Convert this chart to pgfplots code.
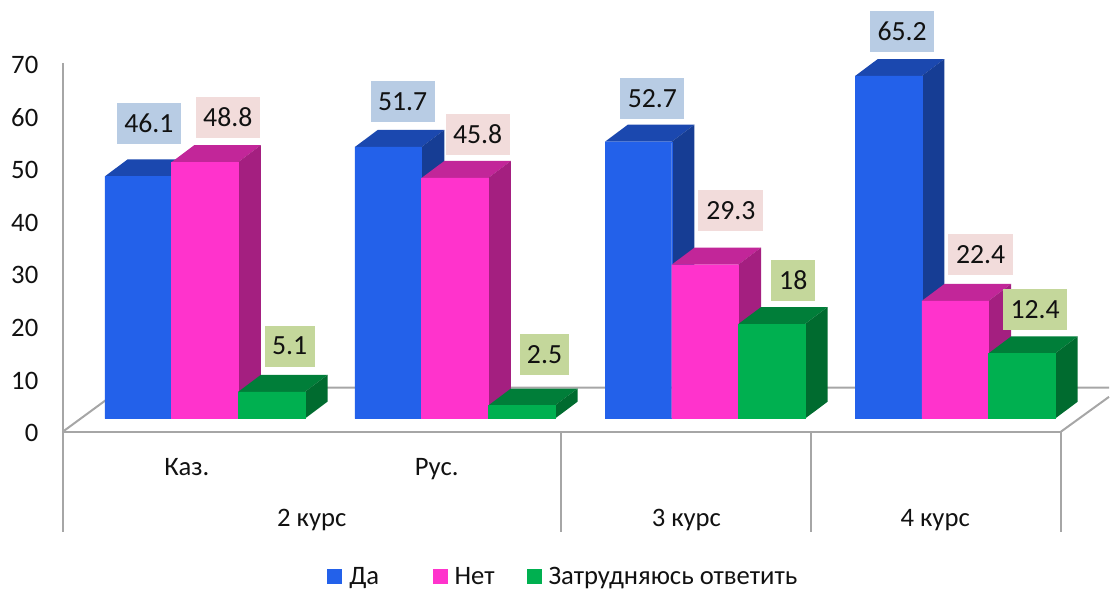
\documentclass[border=0pt]{standalone}
\usepackage{fontspec}
\setmainfont{Carlito}
\usepackage{pgfplots}
\pgfplotsset{compat=1.18}

\definecolor{blueF}{HTML}{2361EA}
\definecolor{blueT}{HTML}{1B48AF}
\definecolor{blueS}{HTML}{163D94}
\definecolor{pinkF}{HTML}{FF33CC}
\definecolor{pinkT}{HTML}{C22699}
\definecolor{pinkS}{HTML}{A41F80}
\definecolor{greenF}{HTML}{00B050}
\definecolor{greenT}{HTML}{007E39}
\definecolor{greenS}{HTML}{006B2F}
\definecolor{lblB}{HTML}{B8CCE4}
\definecolor{lblP}{HTML}{F2DCDB}
\definecolor{lblG}{HTML}{C4D79B}
\definecolor{frame}{HTML}{A6A6A6}
\definecolor{txt}{HTML}{111111}

% x positions are in pixels of the reference, 1 px = 0.75 pt
\newcommand{\cube}[4]{%
  \pgfmathsetmacro\xr{#1+66.7}%
  \pgfmathsetmacro\xbl{#1+22.7}%
  \pgfmathsetmacro\xbr{#1+89.4}%
  \pgfmathsetmacro\vb{#2+3.23}%
  \addplot[fill=#3,draw=none,mark=none,forget plot] coordinates {(#1,#2) (\xr,#2) (\xbr,\vb) (\xbl,\vb) (#1,#2)};
  \addplot[fill=#4,draw=none,mark=none,forget plot] coordinates {(\xr,0) (\xr,#2) (\xbr,\vb) (\xbr,3.23) (\xr,0)};
}
\newcommand{\lab}[5]{%
  \node[fill=#4,text=txt,inner sep=0pt,minimum width=#3*0.75pt,minimum height=30.75pt,
    font=\fontsize{20.8}{24}\selectfont]
    at ({#1*0.75pt},{(587-#2)*0.75pt}) {#5};
}

\begin{document}
\begin{tikzpicture}[font=\fontsize{20}{24}\selectfont]

% frame and value scale: 0 lies at y=432 px on the wall
\begin{axis}[
  at={(47.25pt,0pt)},
  scale only axis,
  width=785.25pt,
  height=440.25pt,
  xmin=63, xmax=1110,
  ymin=-29.41, ymax=81.96,
  clip=false,
  axis line style={draw=none},
  tick style={draw=none},
  ytick={0,10,20,30,40,50,60,70},
  /pgf/number format/assume math mode=true,
  yticklabel style={text=txt,xshift=-15pt,yshift=-1.2pt},
  xtick={187,437},
  xticklabels={Каз.,Рус.},
  xticklabel style={text=txt,anchor=base,yshift=83.5pt},
  extra x ticks={312,687,936},
  extra x tick labels={2 курс,3 курс,4 курс},
  extra x tick style={tick label style={text=txt,anchor=base,yshift=-38.25pt}},
]
\addplot[frame,line width=1.5pt,mark=none] coordinates {(63,70) (63,-19.1)};
\addplot[frame,line width=1.5pt,mark=none] coordinates {(63,0) (1062,0)};
\addplot[frame,line width=1.5pt,mark=none] coordinates {(63,0) (123,8.35) (1110,8.35)};
\addplot[frame,line width=1.5pt,mark=none] coordinates {(1062,0) (1110,6.6)};
\addplot[frame,line width=1.5pt,mark=none] coordinates {(561.5,0) (561.5,-19.1)};
\addplot[frame,line width=1.5pt,mark=none] coordinates {(811.5,0) (811.5,-19.1)};
\addplot[frame,line width=1.5pt,mark=none] coordinates {(1062,0) (1062,-19.1)};
\end{axis}

% bars: 0 lies at y=419 px on the front plane
\begin{axis}[
  at={(47.25pt,0pt)},
  scale only axis,
  width=785.25pt,
  height=440.25pt,
  xmin=63, xmax=1110,
  ymin=-31.94, ymax=79.66,
  clip=false,
  hide axis,
  legend columns=3,
  legend cell align=left,
  legend style={at={(0.2525,0.0165)},anchor=west,draw=none,fill=none,inner sep=0pt,
    text=txt,
    /tikz/every even column/.append style={column sep=0pt}},
  legend image code/.code={\path[#1] (0pt,-5.5pt) rectangle (11.25pt,5.75pt);\path (14.5pt,0pt);},
]
\addlegendimage{fill=blueF,draw=none}
\addlegendentry{Да\rule{38pt}{0pt}}
\addlegendimage{fill=pinkF,draw=none}
\addlegendentry{Нет\rule{22pt}{0pt}}
\addlegendimage{fill=greenF,draw=none}
\addlegendentry{Затрудняюсь ответить}

% Да
\cube{105}{46.1}{blueT}{blueS}
\cube{355.3}{51.7}{blueT}{blueS}
\cube{605.6}{52.7}{blueT}{blueS}
\cube{855.9}{65.2}{blueT}{blueS}
\addplot[ybar,bar shift=0pt,bar width=66.7,fill=blueF,draw=blueF,line width=0.2pt,mark=none,forget plot]
  coordinates {(138.35,46.1) (388.65,51.7) (638.95,52.7) (889.25,65.2)};
% Нет
\cube{171.7}{48.8}{pinkT}{pinkS}
\cube{422}{45.8}{pinkT}{pinkS}
\cube{672.3}{29.3}{pinkT}{pinkS}
\cube{922.6}{22.4}{pinkT}{pinkS}
\addplot[ybar,bar shift=0pt,bar width=66.7,fill=pinkF,draw=pinkF,line width=0.2pt,mark=none,forget plot]
  coordinates {(205.05,48.8) (455.35,45.8) (705.65,29.3) (955.95,22.4)};
% Затрудняюсь ответить
\cube{238.4}{5.1}{greenT}{greenS}
\cube{488.7}{2.5}{greenT}{greenS}
\cube{739}{18}{greenT}{greenS}
\cube{989.3}{12.4}{greenT}{greenS}
\addplot[ybar,bar shift=0pt,bar width=66.7,fill=greenF,draw=greenF,line width=0.2pt,mark=none,forget plot]
  coordinates {(271.75,5.1) (522.05,2.5) (772.35,18) (1022.65,12.4)};
\end{axis}

% data labels, at their places in the reference
\lab{149}{123.5}{64}{lblB}{46.1}
\lab{228}{117.5}{64}{lblP}{48.8}
\lab{290}{346.5}{50}{lblG}{5.1}
\lab{403}{102}{64}{lblB}{51.7}
\lab{478}{134.5}{64}{lblP}{45.8}
\lab{545}{355}{50}{lblG}{2.5}
\lab{653}{98.5}{64}{lblB}{52.7}
\lab{731.5}{211}{65}{lblP}{29.3}
\lab{794}{280.5}{44}{lblG}{18}
\lab{903}{31.5}{64}{lblB}{65.2}
\lab{981.5}{254.5}{65}{lblP}{22.4}
\lab{1036}{309.5}{64}{lblG}{12.4}

\path[use as bounding box] (0,0) rectangle (832.5pt,440.25pt);
\end{tikzpicture}
\end{document}
